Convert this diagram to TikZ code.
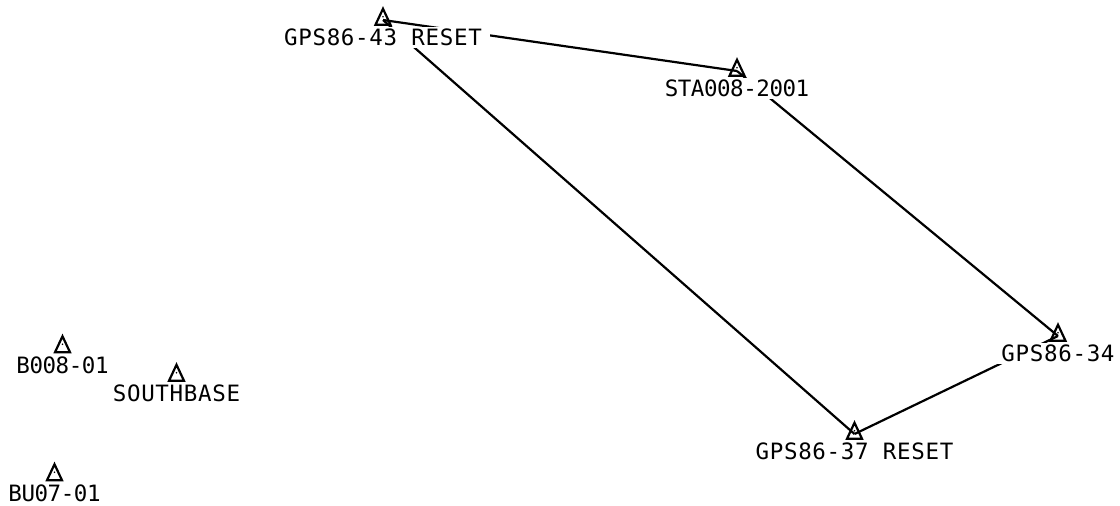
\documentclass[tikz,border=0pt]{standalone}
\usepackage{fontspec}
\setmainfont[LetterSpace=3]{DejaVu Sans Mono}
\newfontfamily\tightfont[LetterSpace=-2]{DejaVu Sans Mono}
\usetikzlibrary{positioning}
\usetikzlibrary{shapes.geometric}

\begin{document}
\begin{tikzpicture}[x = 1pt, y = -1pt, node distance = 17.5pt, on grid,
                    line width = 2.2pt,
                    station/.style = {isosceles triangle,
                                      isosceles triangle stretches,
                                      shape border rotate = 90,
                                      draw,
                                      inner sep = 0pt,
                                      minimum width = 15pt,
                                      minimum height = 16pt,
                                      path picture = {\fill (path picture bounding box.center) circle (0.9pt);}},
                    stnlabel/.style = {fill = white,
                                       inner xsep = 8pt,
                                       inner ysep = 2.5pt,
                                       text height = 16.4pt,
                                       text depth = 0pt,
                                       font = \fontsize{22.5}{24}\selectfont},
                    tightlabel/.style = {stnlabel,
                                         font = \fontsize{22.5}{24}\selectfont\tightfont}]

\useasboundingbox (0,0) rectangle (1120,506);

\node[station] (G43) at (383,20) {};
\node[station] (STA) at (737,71) {};
\node[station] (G34) at (1058,336) {};
\node[station] (G37) at (854.5,434) {};
\node[station] (B008) at (62.5,347.5) {};
\node[station] (SB) at (176.5,376) {};
\node[station] (BU07) at (54.5,475.5) {};

\draw (G43.center) -- (STA.center);
\draw (STA.center) -- (G34.center);
\draw (G34.center) -- (G37.center);
\draw (G37.center) -- (G43.center);

\node[stnlabel, below = of G43] (G43L) {GPS86-43 RESET};
\node[tightlabel, below = of STA] (STAL) {STA008-2001};
\node[stnlabel, below = of G34] (G34L) {GPS86-34};
\node[stnlabel, below = of G37] (G37L) {GPS86-37 RESET};
\node[tightlabel, below = of B008] (B008L) {B008-01};
\node[stnlabel, below = of SB] (SBL) {SOUTHBASE};
\node[tightlabel, below = of BU07] (BU07L) {BU07-01};

\end{tikzpicture}
\end{document}
